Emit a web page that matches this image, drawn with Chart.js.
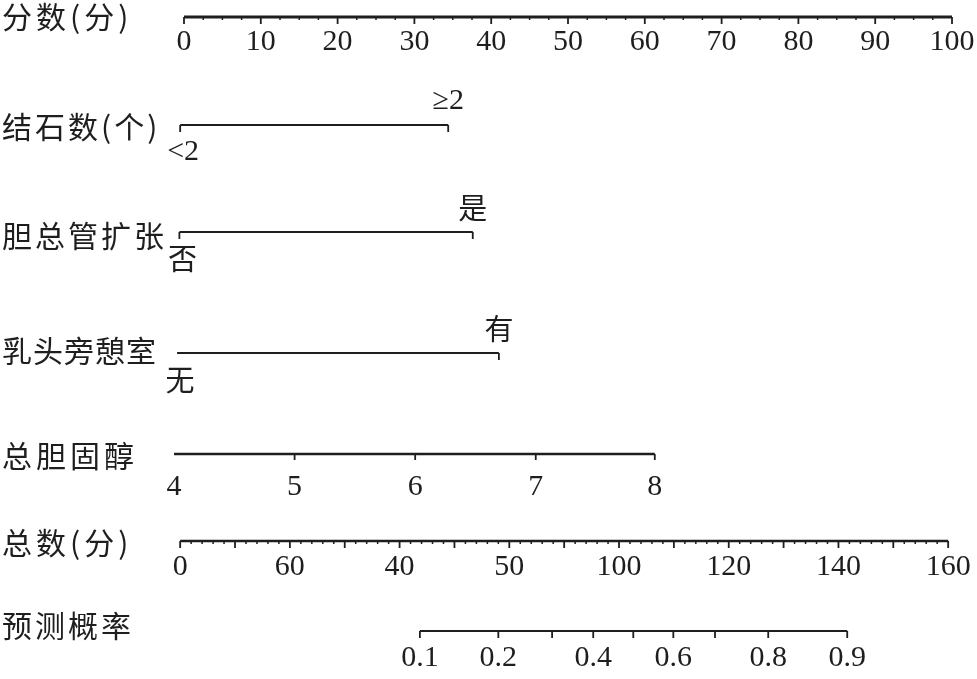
<!DOCTYPE html>
<html>
<head>
<meta charset="utf-8">
<script src="https://cdn.jsdelivr.net/npm/chart.js@4"></script>
<style>
  body { margin: 0; background: #fff; }
  #wrap { width: 977px; height: 679px; }
</style>
</head>
<body>
<div id="wrap"><canvas id="nomogram"></canvas></div>
<script>
// Row names and where each row sits (y scale runs 0..679 top to bottom)
const rowNames = ['分数(分)', '结石数(个)', '胆总管扩张', '乳头旁憩室', '总胆固醇', '总数(分)', '预测概率'];
const rowY = [17, 125, 232, 353, 454, 541, 631];
const nameY = [17, 127, 236, 351, 456, 543, 626];
const nameSpacing = [4, 3, 3, 1, 4, 4, 3];

// Points axis 0-100
const pointTicks = [0, 10, 20, 30, 40, 50, 60, 70, 80, 90, 100];

// Categorical predictors: level labels and their points
const stoneLevels = ['<2', '≥2'];
const stonePoints = [-0.5, 34.4];
const cbdLevels = ['否', '是'];
const cbdPoints = [-0.6, 37.6];
const divertLevels = ['无', '有'];
const divertPoints = [-0.9, 41.0];

// Total cholesterol
const cholValues = [4, 5, 6, 7, 8];
const cholPoints = [-1.3, 14.4, 30.1, 45.8, 61.3];

// Total points axis (labels as printed in the figure)
const totalTickLabels = ['0', '60', '40', '50', '100', '120', '140', '160'];
const totalTickPos = [0, 20, 40, 60, 80, 100, 120, 140];
const totalMax = 140;

// Predicted probability, positioned on the total points axis
const probValues = [0.1, 0.2, 0.3, 0.4, 0.5, 0.6, 0.7, 0.8, 0.9];
const probLabels = ['0.1', '0.2', '', '0.4', '', '0.6', '', '0.8', '0.9'];
const probTotal = [43.7, 58.0, 67.8, 75.3, 82.6, 89.9, 97.5, 107.2, 121.6];

const ink = '#1e1e1e';
const numFont = '30px "Liberation Serif", "Times New Roman", serif';
const nameFont = '30px "Noto Sans CJK SC", sans-serif';
const levelFont = '29px "Noto Sans CJK SC", sans-serif';

function totalToPoints(u) {
  return -0.5 + u * 100 / totalMax;
}

// a horizontal axis line
function axisLine(x0, x1, y, width) {
  return {
    type: 'line',
    data: [{ x: x0, y: y }, { x: x1, y: y }],
    borderColor: ink,
    borderWidth: width,
    pointRadius: 0,
    clip: false
  };
}

// small ticks hanging below a row
function tickSet(xs, y, len, width) {
  return {
    type: 'scatter',
    data: xs.map(function (v) { return { x: v, y: y + len / 2 }; }),
    pointStyle: 'line',
    rotation: 90,
    pointRadius: len / 2,
    borderColor: ink,
    borderWidth: width,
    clip: false
  };
}

var minorPts = [];
for (var p = 0; p <= 100; p += 2.5) {
  if (p % 10 !== 0) minorPts.push(p);
}
var totalMajor = [], totalMinor = [];
for (var u = 0; u <= totalMax; u += 2) {
  if (u % 10 === 0) totalMajor.push(totalToPoints(u));
  else totalMinor.push(totalToPoints(u));
}
var probPts = probTotal.map(totalToPoints);

const datasets = [
  axisLine(0, 100, rowY[0], 2.8),
  tickSet(pointTicks, rowY[0], 7, 1.8),
  tickSet(minorPts, rowY[0], 3, 1.5),

  axisLine(stonePoints[0], stonePoints[1], rowY[1], 2),
  tickSet(stonePoints, rowY[1], 7, 1.8),

  axisLine(cbdPoints[0], cbdPoints[1], rowY[2], 2),
  tickSet(cbdPoints, rowY[2], 7, 1.8),

  axisLine(divertPoints[0], divertPoints[1], rowY[3], 2.2),
  tickSet(divertPoints, rowY[3], 7, 1.8),

  axisLine(cholPoints[0], cholPoints[cholPoints.length - 1], rowY[4], 2.6),
  tickSet(cholPoints, rowY[4], 6, 1.8),

  axisLine(totalToPoints(0), totalToPoints(totalMax), rowY[5], 2.6),
  tickSet(totalMajor, rowY[5], 7, 1.8),
  tickSet(totalMinor, rowY[5], 3, 1.5),

  axisLine(probPts[0], probPts[probPts.length - 1], rowY[6], 2),
  tickSet(probPts, rowY[6], 7, 1.8)
];

// Draws all the text of the nomogram
const textPlugin = {
  id: 'nomoText',
  afterDatasetsDraw: function (chart) {
    const ctx = chart.ctx;
    const xs = chart.scales.x, ys = chart.scales.y;
    const px = function (v) { return xs.getPixelForValue(v); };
    const py = function (v) { return ys.getPixelForValue(v); };
    ctx.save();
    ctx.fillStyle = ink;
    ctx.textBaseline = 'middle';

    // row names
    ctx.textAlign = 'left';
    ctx.font = nameFont;
    rowNames.forEach(function (n, i) {
      ctx.letterSpacing = nameSpacing[i] + 'px';
      ctx.fillText(n, 2, py(nameY[i]));
    });
    ctx.letterSpacing = '0px';

    ctx.textAlign = 'center';
    // points axis
    ctx.font = numFont;
    pointTicks.forEach(function (t) { ctx.fillText(String(t), px(t), py(rowY[0] + 25)); });

    // categorical rows: first level below left end, second above right end
    function levels(labels, pts, row, font) {
      ctx.font = font;
      ctx.fillText(labels[0], px(pts[0]) + 3, py(rowY[row] + 27));
      ctx.fillText(labels[1], px(pts[1]), py(rowY[row] - 24));
    }
    levels(stoneLevels, stonePoints, 1, numFont);
    levels(cbdLevels, cbdPoints, 2, levelFont);
    levels(divertLevels, divertPoints, 3, levelFont);

    // cholesterol
    ctx.font = numFont;
    cholValues.forEach(function (v, i) { ctx.fillText(String(v), px(cholPoints[i]), py(rowY[4] + 33)); });

    // total points
    totalTickLabels.forEach(function (l, i) {
      ctx.fillText(l, px(totalToPoints(totalTickPos[i])), py(rowY[5] + 26));
    });

    // probability
    probLabels.forEach(function (l, i) {
      if (l) ctx.fillText(l, px(probPts[i]), py(rowY[6] + 27));
    });
    ctx.restore();
  }
};

new Chart(document.getElementById('nomogram'), {
  data: { datasets: datasets },
  options: {
    responsive: true,
    maintainAspectRatio: false,
    animation: false,
    layout: { autoPadding: false, padding: { left: 184, right: 25, top: 0, bottom: 0 } },
    scales: {
      x: { type: 'linear', min: 0, max: 100, display: false },
      y: { type: 'linear', min: 0, max: 679, reverse: true, display: false }
    },
    plugins: {
      legend: { display: false },
      tooltip: { enabled: false }
    }
  },
  plugins: [textPlugin]
});
</script>
</body>
</html>
